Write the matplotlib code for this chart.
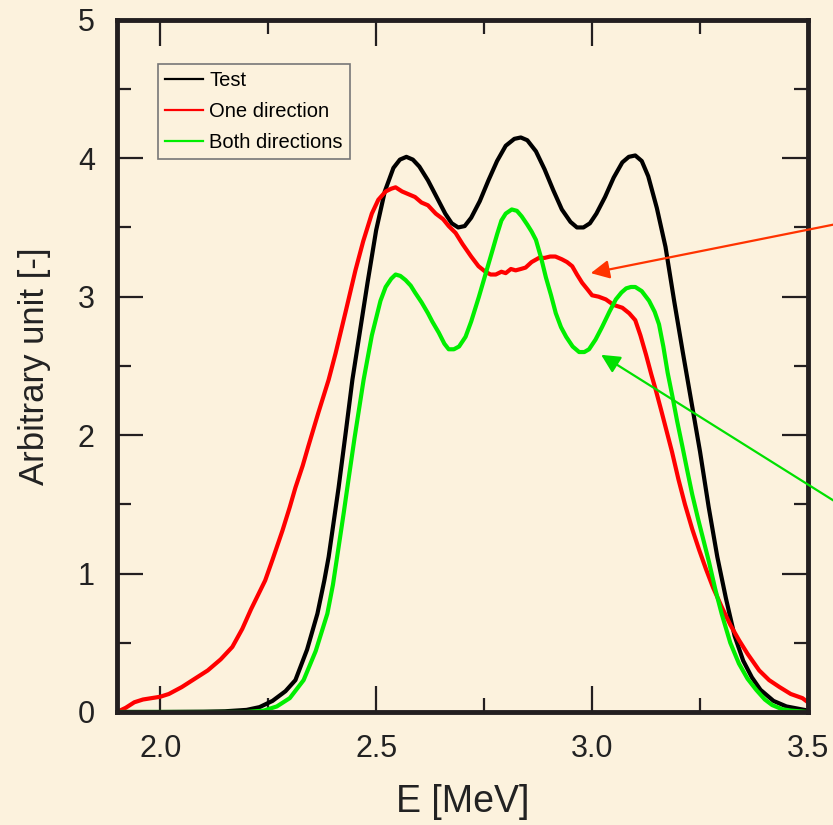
import matplotlib
matplotlib.use('Agg')
import matplotlib.pyplot as plt
from matplotlib.lines import Line2D
from matplotlib.ticker import MultipleLocator

# values
test_x = [1.90, 2.00, 2.10, 2.15, 2.20, 2.23, 2.26, 2.29, 2.313, 2.34, 2.364, 2.38, 2.39, 2.413, 2.43,
          2.445, 2.46, 2.48, 2.50, 2.52, 2.54, 2.555, 2.57, 2.585, 2.60, 2.62, 2.64, 2.66, 2.675, 2.69,
          2.705, 2.72, 2.74, 2.76, 2.78, 2.80, 2.82, 2.835, 2.85, 2.87, 2.89, 2.91, 2.93, 2.95,
          2.965, 2.98, 2.995, 3.01, 3.03, 3.05, 3.07, 3.085, 3.10, 3.115, 3.13, 3.15, 3.17, 3.19,
          3.21, 3.23, 3.25, 3.27, 3.29, 3.31, 3.33, 3.35, 3.37, 3.39, 3.42, 3.45, 3.50]
test_y = [0.0, 0.0, 0.002, 0.005, 0.015, 0.035, 0.08, 0.15, 0.23, 0.45, 0.71, 0.95, 1.12, 1.62, 2.03,
          2.40, 2.70, 3.10, 3.48, 3.76, 3.93, 3.99, 4.01, 3.99, 3.94, 3.84, 3.72, 3.60, 3.53, 3.50,
          3.51, 3.57, 3.69, 3.84, 3.98, 4.09, 4.14, 4.15, 4.13, 4.05, 3.92, 3.77, 3.63, 3.54,
          3.50, 3.50, 3.53, 3.60, 3.72, 3.86, 3.97, 4.01, 4.02, 3.98, 3.87, 3.64, 3.36, 2.97,
          2.60, 2.24, 1.88, 1.48, 1.12, 0.82, 0.55, 0.37, 0.25, 0.16, 0.08, 0.04, 0.01]

one_x = [1.90, 1.92, 1.94, 1.96, 1.98, 2.00, 2.02, 2.05, 2.08, 2.11, 2.14, 2.167, 2.19, 2.21, 2.243,
         2.26, 2.283, 2.30, 2.313, 2.33, 2.343, 2.366, 2.39, 2.406, 2.43, 2.452, 2.47, 2.49, 2.505,
         2.522, 2.535, 2.545, 2.56, 2.575, 2.59, 2.605, 2.62, 2.638, 2.655, 2.668, 2.684, 2.70,
         2.72, 2.737, 2.753, 2.765, 2.777, 2.79, 2.80, 2.812, 2.823, 2.835, 2.846, 2.86, 2.877,
         2.89, 2.903, 2.915, 2.93, 2.942, 2.954, 2.965, 2.977, 2.99, 3.00, 3.015, 3.032, 3.05,
         3.07, 3.086, 3.10, 3.112, 3.125, 3.137, 3.148, 3.16, 3.17, 3.185, 3.20, 3.215, 3.232,
         3.248, 3.264, 3.28, 3.30, 3.32, 3.34, 3.36, 3.387, 3.41, 3.434, 3.46, 3.487, 3.50]
one_y = [0.0, 0.03, 0.07, 0.09, 0.10, 0.11, 0.13, 0.18, 0.24, 0.30, 0.38, 0.47, 0.60, 0.74, 0.95,
         1.10, 1.31, 1.48, 1.62, 1.78, 1.92, 2.16, 2.40, 2.59, 2.90, 3.19, 3.40, 3.60, 3.70,
         3.76, 3.78, 3.79, 3.76, 3.74, 3.72, 3.68, 3.66, 3.60, 3.56, 3.51, 3.46, 3.38,
         3.29, 3.22, 3.18, 3.16, 3.16, 3.18, 3.17, 3.20, 3.19, 3.20, 3.21, 3.25, 3.28,
         3.28, 3.29, 3.29, 3.27, 3.25, 3.22, 3.16, 3.10, 3.05, 3.01, 3.00, 2.98, 2.94,
         2.92, 2.88, 2.83, 2.72, 2.58, 2.44, 2.32, 2.18, 2.06, 1.88, 1.68, 1.50, 1.32,
         1.17, 1.03, 0.90, 0.76, 0.63, 0.52, 0.42, 0.30, 0.23, 0.18, 0.13, 0.10, 0.07]

both_x = [1.90, 2.10, 2.20, 2.24, 2.27, 2.30, 2.332, 2.36, 2.387, 2.40, 2.413, 2.425, 2.436, 2.45,
          2.471, 2.49, 2.51, 2.522, 2.535, 2.545, 2.556, 2.568,
          2.58, 2.59, 2.605, 2.62, 2.63, 2.645, 2.658, 2.668, 2.68, 2.692, 2.707, 2.72, 2.738,
          2.753, 2.768, 2.78, 2.79, 2.80, 2.814, 2.826, 2.837, 2.85, 2.86, 2.87, 2.882, 2.893,
          2.905, 2.916, 2.928, 2.94, 2.955, 2.97, 2.982, 2.993, 3.008, 3.023, 3.04, 3.055, 3.068,
          3.079, 3.09, 3.10, 3.115, 3.132, 3.145, 3.155, 3.165, 3.175, 3.186, 3.197, 3.209, 3.22,
          3.232, 3.245, 3.258, 3.271, 3.285, 3.30, 3.32, 3.34, 3.36, 3.38, 3.40, 3.417, 3.44,
          3.46, 3.50]
both_y = [0.0, 0.0, 0.0, 0.01, 0.04, 0.10, 0.23, 0.44, 0.71, 0.92, 1.19, 1.44, 1.68, 1.98,
          2.40, 2.72, 2.97, 3.07, 3.13, 3.16, 3.15, 3.12,
          3.08, 3.03, 2.96, 2.88, 2.82, 2.74, 2.66, 2.62, 2.62, 2.64, 2.71, 2.82, 3.00,
          3.16, 3.32, 3.45, 3.55, 3.60, 3.63, 3.62, 3.58, 3.52, 3.47, 3.41, 3.28, 3.14,
          3.01, 2.88, 2.78, 2.71, 2.64, 2.60, 2.60, 2.62, 2.69, 2.78, 2.89, 2.98, 3.03,
          3.06, 3.07, 3.07, 3.04, 2.97, 2.89, 2.80, 2.64, 2.45, 2.28, 2.10, 1.92, 1.75,
          1.57, 1.40, 1.24, 1.08, 0.89, 0.71, 0.50, 0.35, 0.24, 0.16, 0.09, 0.05, 0.02,
          0.01, 0.0]

labels = ['Test', 'One direction', 'Both directions']
colors = ['#000000', '#ff0000', '#00ee00']

# arrow tips and tails (tails lie past the right edge of the figure)
red_tip, red_tail = (2.997, 3.17), (3.712, 3.616)
green_tip, green_tail = (3.021, 2.58), (3.712, 1.228)

bg = '#fcf2dd'
ink = '#231f20'

plt.rcParams['font.family'] = ['Liberation Sans', 'DejaVu Sans']

fig = plt.figure(figsize=(8.33, 8.25), dpi=100, facecolor=bg)
ax = fig.add_axes([0.1405, 0.137, 0.8295, 0.839], facecolor=bg)

ax.plot(test_x, test_y, color=colors[0], lw=3.0, solid_capstyle='round')
ax.plot(one_x, one_y, color=colors[1], lw=3.0, solid_capstyle='round')
ax.plot(both_x, both_y, color=colors[2], lw=3.0, solid_capstyle='round')

ax.set_xlim(1.9, 3.5)
ax.set_ylim(0, 5)
ax.xaxis.set_minor_locator(MultipleLocator(0.25))
ax.yaxis.set_major_locator(MultipleLocator(1))
ax.yaxis.set_minor_locator(MultipleLocator(0.5))
ax.set_xticks([2.0, 2.5, 3.0, 3.5])
ax.set_xticklabels(['2.0', '2.5', '3.0', '3.5'])

ax.tick_params(which='both', direction='in', top=True, right=True, color=ink,
               labelcolor='#222222', labelsize=22, pad=16)
ax.tick_params(which='major', length=19, width=1.6)
ax.tick_params(which='minor', length=10, width=1.6)
for s in ax.spines.values():
    s.set_linewidth(3.5)
    s.set_color(ink)

ax.set_xlabel('E [MeV]', fontsize=27, color='#222222', labelpad=14)
ax.set_ylabel('Arbitrary unit [-]', fontsize=25, color='#222222', labelpad=19)

handles = [Line2D([], [], color=c, lw=1.6) for c in colors]
leg = ax.legend(handles, labels, loc='upper left', bbox_to_anchor=(0.059, 0.936),
                borderaxespad=0, fontsize=14.5, frameon=True, fancybox=False,
                handlelength=1.9, handletextpad=0.3, labelspacing=0.6,
                borderpad=0.35, facecolor=bg, edgecolor='#777777', framealpha=1)
leg.get_frame().set_linewidth(1.2)

ax.annotate('', xy=red_tip, xytext=red_tail, annotation_clip=False,
            arrowprops=dict(arrowstyle='-|>', color='#ff3300', lw=1.6,
                            mutation_scale=28, shrinkA=0, shrinkB=0))
ax.annotate('', xy=green_tip, xytext=green_tail, annotation_clip=False,
            arrowprops=dict(arrowstyle='-|>', color='#00e000', lw=1.6,
                            mutation_scale=28, shrinkA=0, shrinkB=0))

fig.savefig('out.png', dpi=100, facecolor=bg)
